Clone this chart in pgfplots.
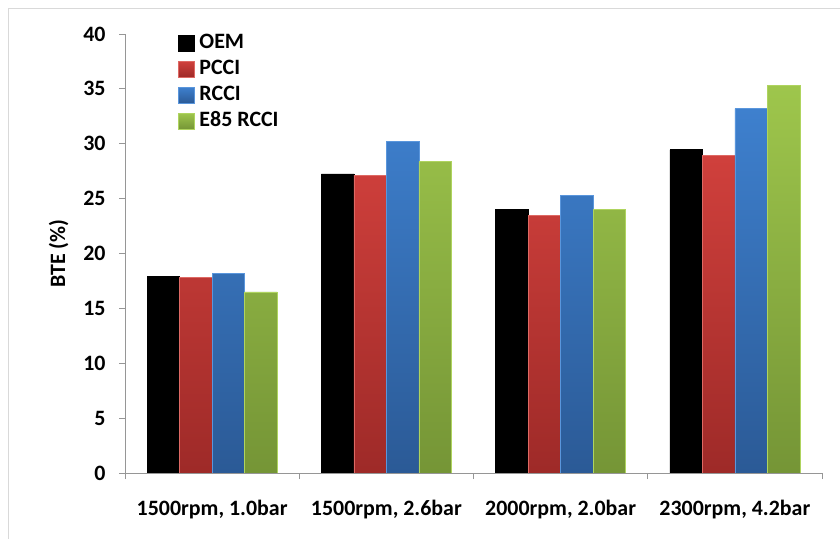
\documentclass[border=0pt]{standalone}
\usepackage{pgfplots}
\pgfplotsset{compat=1.18}
\usepackage{fontspec}
\setmainfont{Carlito}
\definecolor{axgray}{RGB}{150,150,150}
\definecolor{frame}{RGB}{217,217,217}
\definecolor{redT}{RGB}{208,64,60}
\definecolor{redB}{RGB}{158,42,40}
\definecolor{redE}{RGB}{222,105,100}
\definecolor{bluT}{RGB}{62,128,206}
\definecolor{bluB}{RGB}{43,90,150}
\definecolor{bluE}{RGB}{90,150,220}
\definecolor{grnT}{RGB}{158,198,76}
\definecolor{grnB}{RGB}{117,149,54}
\definecolor{grnE}{RGB}{175,212,95}
\newcommand{\cf}{\bfseries\fontsize{22}{26}\selectfont}
\begin{document}
\begin{tikzpicture}
\useasboundingbox (0,0) rectangle (840bp,539bp);
\draw[frame, line width=1bp] (8bp,0) -- (8bp,530bp) -- (840bp,530bp);
\begin{axis}[
  at={(125bp,66bp)}, anchor=south west,
  scale only axis, width=697bp, height=439bp,
  ymin=0, ymax=40, ytick={0,5,...,40},
  xmin=-0.5, xmax=3.5,
  axis x line*=bottom, axis y line*=left,
  axis line style={axgray, line width=0.8bp},
  every tick/.style={axgray, line width=0.8bp},
  tick align=outside, major tick length=6bp,
  xtick={-0.5,0.5,1.5,2.5,3.5}, xticklabels={},
  extra x ticks={0,1,2,3},
  extra x tick labels={{1500rpm, 1.0bar},{1500rpm, 2.6bar},{2000rpm, 2.0bar},{2300rpm, 4.2bar}},
  extra x tick style={major tick length=0pt},
  /pgf/number format/assume math mode=true,
  tick label style={font=\cf, black},
  xticklabel style={yshift=-24bp},
  yticklabel style={xshift=-10bp},
  ylabel={BTE (\%)}, ylabel style={font=\cf, yshift=8bp},
  ybar=0pt, bar width=0.1865,
  legend style={at={(0.076,1.0)}, anchor=north west, yshift=3bp, draw=none, fill=none,
    font=\cf, row sep=2bp, inner sep=0pt,
    nodes={inner sep=2bp, text height=15bp, text depth=5bp}},
  legend cell align=left,
  legend image code/.code={\fill[#1] (0bp,-8bp) rectangle (16bp,8bp); \path[draw=none,fill=none] (19bp,0bp) circle[radius=0pt];},
]
\addplot[fill=black, draw=black, line width=0.6bp] coordinates {(0,17.9) (1,27.25) (2,24.0) (3,29.45)};
\addplot[top color=redT, bottom color=redB, draw=redE, line width=0.6bp] coordinates {(0,17.8) (1,27.15) (2,23.45) (3,28.97)};
\addplot[top color=bluT, bottom color=bluB, draw=bluE, line width=0.6bp] coordinates {(0,18.2) (1,30.25) (2,25.3) (3,33.2)};
\addplot[top color=grnT, bottom color=grnB, draw=grnE, line width=0.6bp] coordinates {(0,16.5) (1,28.4) (2,24.0) (3,35.3)};
\legend{OEM, PCCI, RCCI, E85 RCCI}
\end{axis}
\end{tikzpicture}
\end{document}
